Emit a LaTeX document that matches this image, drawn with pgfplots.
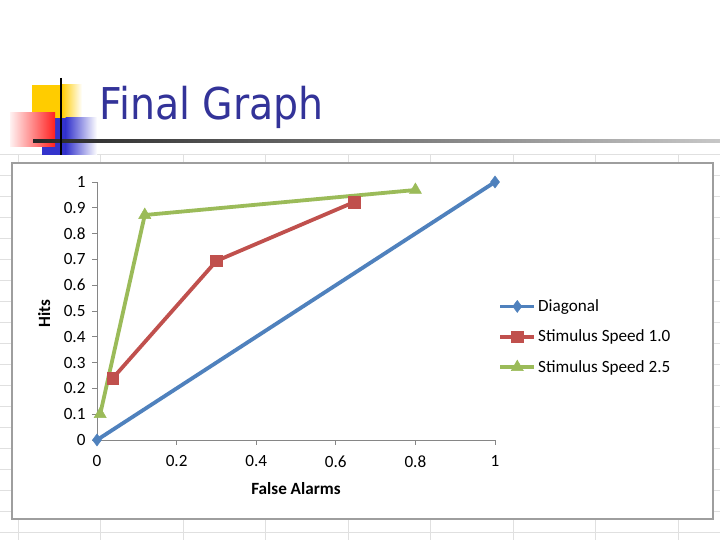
\documentclass[border=0pt]{standalone}
\usepackage{pgfplots}
\pgfplotsset{compat=1.18}
\usepackage{fontspec}
\setmainfont{Carlito}
\newfontfamily\titlefont{DejaVu Sans}
\definecolor{xlblue}{HTML}{4F81BD}
\definecolor{xlred}{HTML}{C0504D}
\definecolor{xlgreen}{HTML}{9BBB59}
\definecolor{ttl}{HTML}{333399}
\definecolor{axgray}{HTML}{868686}
\definecolor{decoy}{HTML}{FFCC00}
\definecolor{decob}{HTML}{3333CC}
\definecolor{decor}{HTML}{FF2020}
\newcommand\chartfont{\fontsize{17.2}{20}\selectfont}
\begin{document}
\begin{tikzpicture}[x=1bp,y=1bp]
\fill[white] (0,0) rectangle (720,540);
\useasboundingbox (0,0) rectangle (720,540);
% spreadsheet grid behind the chart
\foreach \c in {18,100.5,183,265.5,348,430.5,513,595.5,678}
  \draw[black!12,line width=0.6] (\c,0) -- (\c,386);
\foreach \r in {154,175,196,217,238,259,280,301,322,343,364,385,406,427,448,469,490,511,532}
  \draw[black!12,line width=0.6] (0,540-\r) -- (720,540-\r);
% chart frame
\filldraw[fill=white,draw=black!38,line width=1.4] (12,377) rectangle (713,21);
% slide decoration
\fill[decoy] (32,455) rectangle (62,422);
\shade[left color=decoy,right color=white] (61.5,455) rectangle (82,422);
\fill[decob] (42,422) rectangle (66,385);
\shade[left color=decob,right color=white] (65.5,422) rectangle (97,385);
\shade[left color=decor!6,right color=decor] (10,427) rectangle (55,393);
\shade[left color=black!85,right color=black!22] (33,397.6) rectangle (720,400.6);
\draw[black,line width=2.2] (61,462) -- (61,385);
\node[anchor=base west,inner sep=0,text=ttl] at (99,420)
  {\scalebox{0.9}[1]{\titlefont\fontsize{44}{50}\selectfont Final Graph}};
\begin{axis}[
  at={(97bp,100bp)}, anchor=south west,
  scale only axis, width=398bp, height=258bp,
  xmin=0, xmax=1, ymin=0, ymax=1,
  clip=false,
  axis x line*=bottom, axis y line*=left,
  axis line style={axgray,line width=0.8},
  every tick/.style={axgray,line width=0.8},
  tick align=outside, major tick length=5bp,
  xtick={0,0.2,0.4,0.6,0.8,1},
  ytick={0,0.1,0.2,0.3,0.4,0.5,0.6,0.7,0.8,0.9,1},
  /pgf/number format/assume math mode=true,
  /pgf/number format/fixed,
  /pgf/number format/precision=1,
  tick label style={font=\chartfont, black},
  xticklabel style={yshift=-7bp},
  yticklabel style={xshift=-3bp},
  xlabel={\textbf{False Alarms}},
  ylabel={\textbf{Hits}},
  label style={font=\chartfont},
  xlabel style={at={(axis description cs:0.5,-0.19)},anchor=center},
  ylabel style={at={(axis description cs:-0.133,0.49)},anchor=center},
  legend style={at={(axis description cs:1.008,0.40)},anchor=west,draw=none,fill=none,
    font=\chartfont, row sep=13bp, inner xsep=0bp},
  legend cell align=left,
  legend image code/.code={\draw[#1,mark repeat=2,mark phase=2]
    plot coordinates {(0bp,0bp) (17bp,0bp) (34bp,0bp)};},
]
\addplot[xlblue, line width=3.8bp, mark=diamond*, mark size=6bp, mark options={solid,line width=0.5bp}]
  coordinates {(0,0) (1,1)};
\addlegendentry{Diagonal}
\addplot[xlred, line width=3.8bp, mark=square*, mark size=5.8bp, mark options={solid,line width=0.5bp}]
  coordinates {(0.04,0.24) (0.30,0.694) (0.646,0.922)};
\addlegendentry{Stimulus Speed 1.0}
\addplot[xlgreen, line width=3.8bp, mark=triangle*, mark size=7bp, mark options={solid,line width=0.5bp}]
  coordinates {(0.008,0.10) (0.12,0.872) (0.80,0.969)};
\addlegendentry{Stimulus Speed 2.5}
\end{axis}
\end{tikzpicture}
\end{document}
